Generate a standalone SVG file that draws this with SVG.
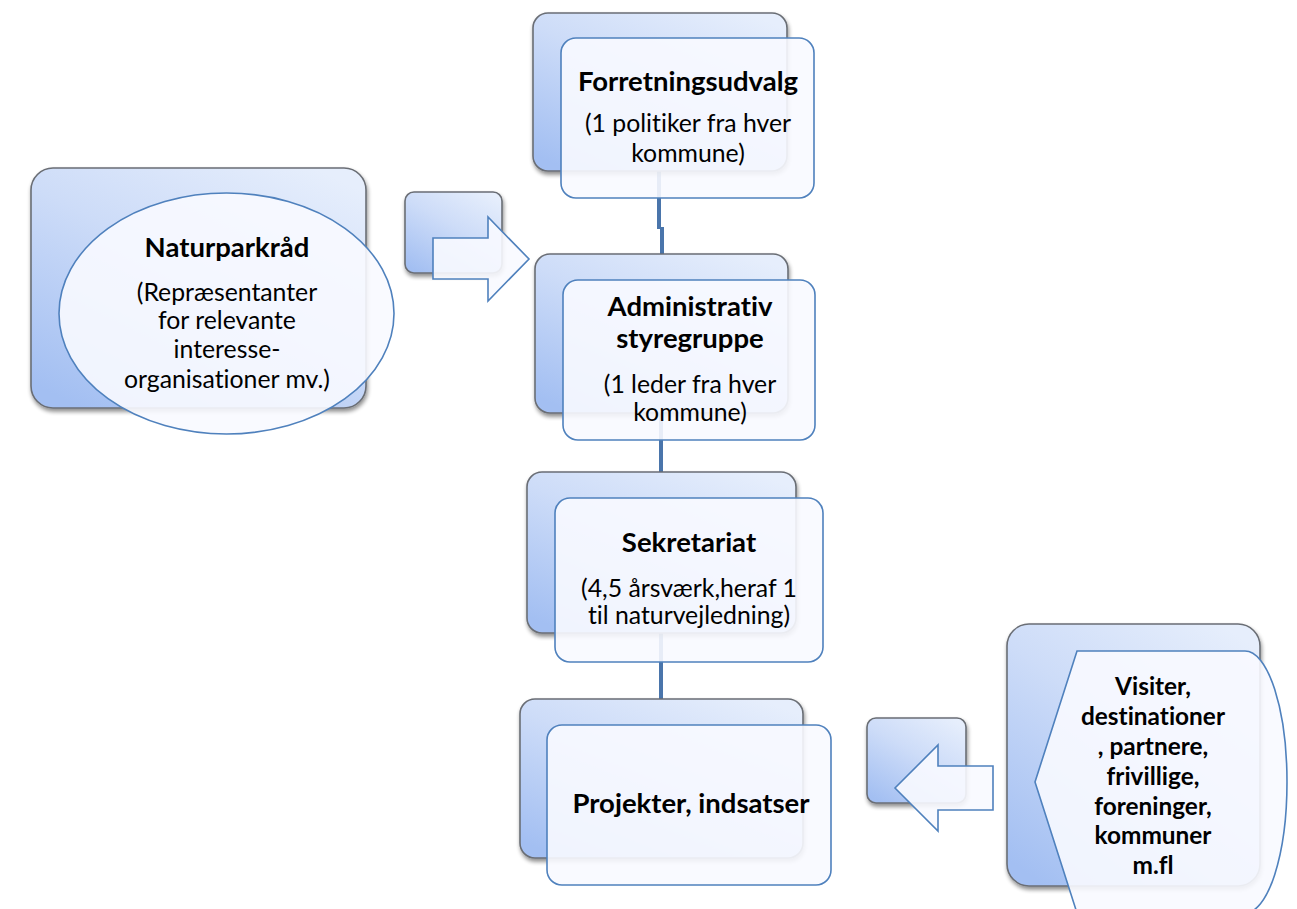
<svg xmlns="http://www.w3.org/2000/svg" width="1297" height="909" viewBox="0 0 1297 909">
<defs>
<linearGradient id="backGrad" x1="0.15" y1="1" x2="0.85" y2="0">
<stop offset="0" stop-color="#a3bff2"/>
<stop offset="0.55" stop-color="#cddcf8"/>
<stop offset="1" stop-color="#e6eefc"/>
</linearGradient>
<filter id="shadow" x="-10%" y="-10%" width="125%" height="125%">
<feGaussianBlur in="SourceAlpha" stdDeviation="2"/>
<feOffset dx="1" dy="3" result="b"/>
<feComponentTransfer><feFuncA type="linear" slope="0.45"/></feComponentTransfer>
<feMerge><feMergeNode/><feMergeNode in="SourceGraphic"/></feMerge>
</filter>
</defs>
<style>
.back{fill:url(#backGrad);stroke:#6a6e75;stroke-width:1.6;filter:url(#shadow)}
.front{fill:#f8faff;fill-opacity:0.9;stroke:#4f81bd;stroke-width:1.6}
.conn{stroke:#4a75ab;stroke-width:4;fill:none}
text{font-variant-ligatures:none;font-feature-settings:"liga" 0}
.t{font-family:Lato,"Liberation Sans",sans-serif;font-size:27.5px;font-weight:bold;fill:#000;text-anchor:middle}
.s{font-family:Lato,"Liberation Sans",sans-serif;font-size:24.8px;fill:#000;text-anchor:middle}
.r{font-family:Lato,"Liberation Sans",sans-serif;font-size:24.4px;font-weight:bold;fill:#000;text-anchor:middle}
</style>
<rect width="1297" height="909" fill="#ffffff"/>
<g id="connectors">
<path class="conn" d="M659,171 V229 M662,227 V256"/>
<path class="conn" d="M661,413 V474"/>
<path class="conn" d="M661,633 V701"/>
</g>
<g id="forretningsudvalg">
<rect class="back" x="533" y="13" width="254" height="158" rx="15"/>
<rect class="front" x="561" y="38" width="253" height="160" rx="15"/>
<text class="t" x="688" y="91">Forretningsudvalg</text>
<text class="s" x="688" y="132">(1 politiker fra hver</text>
<text class="s" x="688" y="162">kommune)</text>
</g>
<g id="administrativ">
<rect class="back" x="535" y="254" width="253" height="159" rx="15"/>
<rect class="front" x="563" y="280" width="252" height="160" rx="15"/>
<text class="t" x="690" y="316">Administrativ</text>
<text class="t" x="690" y="348">styregruppe</text>
<text class="s" x="690" y="393">(1 leder fra hver</text>
<text class="s" x="690" y="421">kommune)</text>
</g>
<g id="sekretariat">
<rect class="back" x="527" y="472" width="269" height="161" rx="15"/>
<rect class="front" x="555" y="498" width="268" height="164" rx="15"/>
<text class="t" x="689" y="552">Sekretariat</text>
<text class="s" x="689" y="597">(4,5 årsværk,heraf 1</text>
<text class="s" x="689" y="624">til naturvejledning)</text>
</g>
<g id="projekter">
<rect class="back" x="520" y="699" width="283" height="159" rx="15"/>
<rect class="front" x="547" y="725" width="284" height="160" rx="15"/>
<text class="t" x="691" y="813">Projekter, indsatser</text>
</g>
<g id="naturparkraad">
<rect class="back" x="31" y="168" width="335" height="240" rx="22"/>
<ellipse class="front" cx="226.5" cy="313.5" rx="167.5" ry="120.5"/>
<text class="t" x="227" y="257">Naturparkråd</text>
<text class="s" x="227" y="301">(Repræsentanter</text>
<text class="s" x="227" y="329">for relevante</text>
<text class="s" x="227" y="358">interesse-</text>
<text class="s" x="227" y="388">organisationer mv.)</text>
</g>
<g id="arrow-right">
<rect class="back" x="405" y="192" width="97" height="81" rx="9"/>
<path class="front" d="M433,238 H488 V217 L529,259 L488,301 V279 H433 Z"/>
</g>
<g id="arrow-left">
<rect class="back" x="867" y="718" width="99" height="85" rx="9"/>
<path class="front" d="M993,766 H938 V745 L895,788 L938,831 V810 H993 Z"/>
</g>
<g id="interessenter">
<rect class="back" x="1007" y="624" width="253" height="262" rx="22"/>
<path class="front" d="M1035,782 L1077,651 H1245 A42,131 0 0 1 1245,913 H1077 Z"/>
<text class="r" x="1153" y="695">Visiter,</text>
<text class="r" x="1153" y="725">destinationer</text>
<text class="r" x="1153" y="755">, partnere,</text>
<text class="r" x="1153" y="785">frivillige,</text>
<text class="r" x="1153" y="815">foreninger,</text>
<text class="r" x="1153" y="844">kommuner</text>
<text class="r" x="1153" y="874">m.fl</text>
</g>
</svg>
